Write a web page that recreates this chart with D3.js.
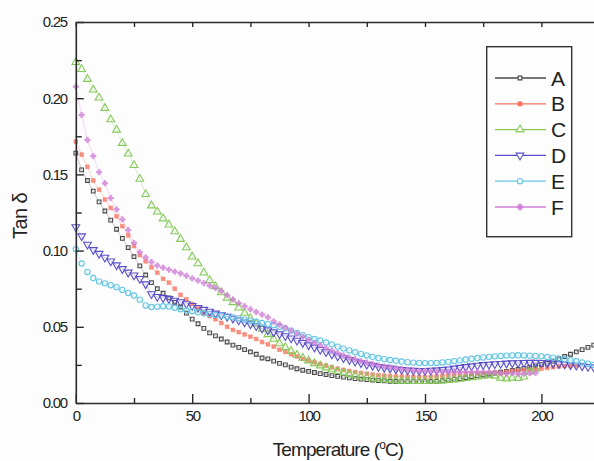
<!DOCTYPE html>
<html>
<head>
<meta charset="utf-8">
<script src="https://cdn.jsdelivr.net/npm/d3@7"></script>
<style>
  body { margin: 0; background: #fff; }
  text { font-family: "Liberation Sans", Arial, sans-serif; fill: #222; }
</style>
</head>
<body>
<div id="container"></div>
<script>
// velikost
const width = 594;
const height = 461;

// teploty (degC), krok 2.5
const temps = d3.range(0, 223, 2.5);

// tan delta, hodnoty
const serieA = [0.164,0.153,0.146,0.139,0.132,0.126,0.120,0.114,0.108,0.102,0.096,0.090,0.084,0.079,0.075,0.072,0.069,0.066,0.063,0.059,
  0.055,0.052,0.049,0.046,0.044,0.042,0.040,0.038,0.0365,0.035,0.0335,0.032,0.0295,0.029,0.0275,0.026,0.025,0.0235,0.0225,0.0215,
  0.0207,0.020,0.0193,0.0187,0.018,0.0175,0.017,0.0165,0.016,0.0157,0.0153,0.015,0.0147,0.0145,0.0143,0.0141,0.014,0.014,0.014,0.014,
  0.014,0.0141,0.0143,0.0146,0.015,0.0155,0.016,0.0166,0.0172,0.0178,0.0184,0.019,0.0196,0.0202,0.0208,0.0214,0.022,0.0227,0.0235,0.0243,
  0.0252,0.026,0.0275,0.029,0.0305,0.032,0.0335,0.035,0.0365,0.038];
const serieB = [0.1715,0.163,0.155,0.146,0.140,0.1335,0.128,0.1225,0.116,0.110,0.103,0.097,0.093,0.089,0.0855,0.0815,0.079,0.075,0.071,0.068,
  0.065,0.062,0.059,0.057,0.055,0.0525,0.050,0.048,0.0465,0.045,0.0435,0.042,0.040,0.0385,0.037,0.035,0.0335,0.032,0.0305,0.029,
  0.0278,0.0267,0.0256,0.0245,0.0235,0.0225,0.0217,0.021,0.0203,0.0197,0.0192,0.0187,0.0183,0.018,0.0177,0.0175,0.0173,0.0172,0.0171,0.017,
  0.017,0.0172,0.0175,0.0178,0.0182,0.0185,0.0188,0.019,0.0192,0.0194,0.0196,0.0198,0.020,0.0195,0.0205,0.021,0.0212,0.0215,0.0218,0.022,
  0.0225,0.023,0.0235,0.024,0.0243,0.0245,0.0247];
const serieC = [0.2236,0.219,0.2125,0.2055,0.2003,0.1935,0.186,0.1792,0.1705,0.1635,0.156,0.147,0.137,0.1295,0.1255,0.121,0.117,0.1125,0.1075,0.102,
  0.096,0.0915,0.0855,0.0805,0.0765,0.0725,0.069,0.066,0.0625,0.059,0.0555,0.052,0.0485,0.045,0.042,0.039,0.0365,0.034,0.0315,0.0295,
  0.0278,0.026,0.0245,0.0232,0.022,0.0208,0.0198,0.0188,0.018,0.0173,0.0167,0.0162,0.0157,0.0153,0.015,0.0147,0.0145,0.0144,0.0143,0.0143,
  0.0143,0.0144,0.0145,0.0147,0.015,0.0153,0.0157,0.0162,0.0167,0.0172,0.0177,0.0182,0.0178,0.0165,0.016,0.0165,0.0162,0.0172,0.0205,0.0225];
const serieD = [0.1155,0.1095,0.104,0.1005,0.098,0.0955,0.093,0.0905,0.088,0.0857,0.0838,0.0815,0.078,0.0715,0.0697,0.069,0.0683,0.0673,0.0663,0.065,
  0.0638,0.0625,0.0613,0.060,0.0588,0.0578,0.0567,0.0555,0.0543,0.053,0.0518,0.0505,0.049,0.0478,0.0465,0.0452,0.044,0.0425,0.041,0.0395,
  0.038,0.0365,0.035,0.0335,0.032,0.0307,0.0295,0.0283,0.0272,0.0262,0.0253,0.0245,0.0238,0.0232,0.0227,0.0222,0.0218,0.0215,0.0213,0.0212,
  0.0212,0.0213,0.0215,0.0218,0.0222,0.0227,0.0232,0.0237,0.0242,0.0246,0.025,0.0253,0.0256,0.0258,0.026,0.0262,0.0263,0.0264,0.0265,0.0265,
  0.0264,0.0262,0.026,0.0257,0.0254,0.025,0.0246,0.0242,0.0238,0.0235];
const serieE = [0.101,0.0915,0.086,0.082,0.0798,0.0785,0.0773,0.076,0.0742,0.0722,0.0705,0.0678,0.064,0.063,0.0632,0.0635,0.0634,0.0625,0.0615,0.0608,
  0.0602,0.0595,0.0589,0.0583,0.0578,0.0573,0.0568,0.0562,0.0555,0.0547,0.054,0.0533,0.0525,0.0517,0.051,0.050,0.049,0.0475,0.046,0.0445,
  0.0432,0.042,0.041,0.0397,0.0385,0.037,0.0357,0.0345,0.0333,0.0322,0.0312,0.0303,0.0295,0.0288,0.0282,0.0277,0.0272,0.0268,0.0265,0.0263,
  0.0262,0.0262,0.0263,0.0266,0.027,0.0275,0.028,0.0285,0.029,0.0295,0.0299,0.0303,0.0306,0.0309,0.0311,0.0312,0.0313,0.0312,0.0311,0.0309,
  0.0306,0.0302,0.0298,0.0293,0.0287,0.0281,0.0274,0.0266,0.0258,0.025];
const serieF = [0.2076,0.189,0.1726,0.162,0.1515,0.1442,0.1345,0.127,0.1205,0.1135,0.105,0.099,0.0955,0.0925,0.0902,0.0888,0.0875,0.0862,0.085,0.0835,
  0.0818,0.0803,0.0787,0.077,0.0755,0.0735,0.0708,0.068,0.0655,0.0635,0.0615,0.0597,0.058,0.0562,0.0535,0.0515,0.0495,0.0475,0.0455,0.0435,
  0.0415,0.0395,0.0378,0.036,0.0343,0.0327,0.0312,0.0298,0.0287,0.0275,0.0265,0.0255,0.0247,0.024,0.0234,0.0228,0.0223,0.0219,0.0215,0.0212,
  0.021,0.0208,0.0206,0.0205,0.0204,0.0204,0.0204,0.0204,0.0204,0.0204,0.0204,0.0203,0.020,0.0195,0.0192,0.0195,0.019,0.0193,0.0195,0.0198];

const nazvy = ["A", "B", "C", "D", "E", "F"];
const hodnoty = [serieA, serieB, serieC, serieD, serieE, serieF];
const barvy = ["#4a4a4a", "#f7735f", "#86c95a", "#5a4fc8", "#66c6e2", "#cf7fd6"];

const xTicks = [0, 50, 100, 150, 200];
const xMinor = [25, 75, 125, 175, 225];
const yTicks = [0, 0.05, 0.10, 0.15, 0.20, 0.25];
const yMinor = [0.025, 0.075, 0.125, 0.175, 0.225];

// osy
const x = d3.scaleLinear().domain([0, 225]).range([75.8, 599.6]);
const y = d3.scaleLinear().domain([0, 0.25]).range([403, 22]);

const svg = d3.create("svg")
    .attr("width", width)
    .attr("height", height)
    .style("background", "#fdfdfe");

// znacky
const tri = d3.symbol().type(d3.symbolTriangle).size(26);
const znacky = [
  { d: d3.symbol().type(d3.symbolSquare).size(14)(), fill: "none", rot: 0 },
  { d: d3.symbol().type(d3.symbolSquare).size(14)(), fill: "fill", rot: 0 },
  { d: tri(), fill: "none", rot: 0 },
  { d: tri(), fill: "none", rot: 180 },
  { d: d3.symbol().type(d3.symbolCircle).size(22)(), fill: "none", rot: 0 },
  { d: d3.symbol().type(d3.symbolCross).size(16)(), fill: "fill", rot: 0 }
];

svg.append("clipPath").attr("id", "plot")
  .append("rect").attr("x", 70).attr("y", 15).attr("width", 535).attr("height", 392);

const linie = d3.line()
    .x((d, i) => x(temps[i]))
    .y(d => y(d));

const g = svg.append("g").attr("clip-path", "url(#plot)");
hodnoty.forEach((vals, k) => {
  g.append("path")
    .datum(vals)
    .attr("fill", "none")
    .attr("stroke", barvy[k])
    .attr("stroke-width", 0.6)
    .attr("opacity", 0.5)
    .attr("d", linie);
  g.selectAll(null)
    .data(vals)
    .join("path")
    .attr("d", znacky[k].d)
    .attr("transform", (d, i) => `translate(${x(temps[i])},${y(d)}) rotate(${znacky[k].rot})`)
    .attr("fill", znacky[k].fill === "fill" ? barvy[k] : "none")
    .attr("fill-opacity", 0.75)
    .attr("stroke", barvy[k])
    .attr("stroke-width", znacky[k].fill === "fill" ? 0.5 : 1.1);
});

// osa X
svg.append("g")
    .attr("transform", `translate(0,${y(0)})`)
    .call(d3.axisBottom(x).tickValues(xTicks).tickSize(-9).tickSizeOuter(0).tickPadding(7).tickFormat(d3.format("d")));
svg.append("g")
    .attr("transform", `translate(0,${y(0)})`)
    .call(d3.axisBottom(x).tickValues(xMinor).tickSize(-5).tickSizeOuter(0).tickFormat(""))
    .select(".domain").remove();

// horni osa
svg.append("g")
    .attr("transform", `translate(0,${y(0.25)})`)
    .call(d3.axisTop(x).tickValues(xTicks.concat(xMinor)).tickSize(-5).tickSizeOuter(0).tickFormat(""));

// osa Y
svg.append("g")
    .attr("transform", `translate(${x(0)},0)`)
    .call(d3.axisLeft(y).tickValues(yTicks).tickSize(-8).tickSizeOuter(0).tickPadding(9).tickFormat(d3.format(".2f")));
svg.append("g")
    .attr("transform", `translate(${x(0)},0)`)
    .call(d3.axisLeft(y).tickValues(yMinor).tickSize(-6).tickSizeOuter(0).tickFormat(""))
    .select(".domain").remove();

svg.selectAll(".domain").attr("stroke", "#2a2a2a").attr("stroke-width", 1.6);
svg.selectAll(".tick line").attr("stroke", "#2a2a2a").attr("stroke-width", 1.4);
svg.selectAll(".tick text")
    .style("font-family", "'Liberation Sans', Arial, sans-serif")
    .style("font-size", "15px")
    .style("letter-spacing", "-1.3px")
    .attr("fill", "#1e1e1e");

// popisky os
svg.append("text")
    .attr("transform", "translate(27,216) rotate(-90)")
    .attr("text-anchor", "middle")
    .style("font-size", "20px")
    .style("letter-spacing", "-0.6px")
    .text("Tan δ");

const tt = svg.append("text")
    .attr("x", 338)
    .attr("y", 456)
    .attr("text-anchor", "middle")
    .style("font-size", "19px")
    .style("letter-spacing", "-0.9px");
tt.append("tspan").text("Temperature (");
tt.append("tspan").attr("dy", -7).style("font-size", "12px").text("o");
tt.append("tspan").attr("dy", 7).text("C)");

// legenda
const leg = svg.append("g");
leg.append("rect")
    .attr("x", 486.7).attr("y", 46.7)
    .attr("width", 85).attr("height", 190)
    .attr("fill", "none")
    .attr("stroke", "#333")
    .attr("stroke-width", 1.4);

nazvy.forEach((n, k) => {
  const ly = 78 + k * 25.8;
  leg.append("line")
    .attr("x1", 495).attr("x2", 546)
    .attr("y1", ly).attr("y2", ly)
    .attr("stroke", barvy[k])
    .attr("stroke-width", 1.3);
  leg.append("path")
    .attr("d", znacky[k].d)
    .attr("transform", `translate(520,${ly}) rotate(${znacky[k].rot})`)
    .attr("fill", znacky[k].fill === "fill" ? barvy[k] : "#fff")
    .attr("stroke", barvy[k])
    .attr("stroke-width", 1.1);
  leg.append("text")
    .attr("x", 551)
    .attr("y", ly + 7.5)
    .style("font-size", "21px")
    .text(n);
});

container.append(svg.node());
</script>
</body>
</html>
